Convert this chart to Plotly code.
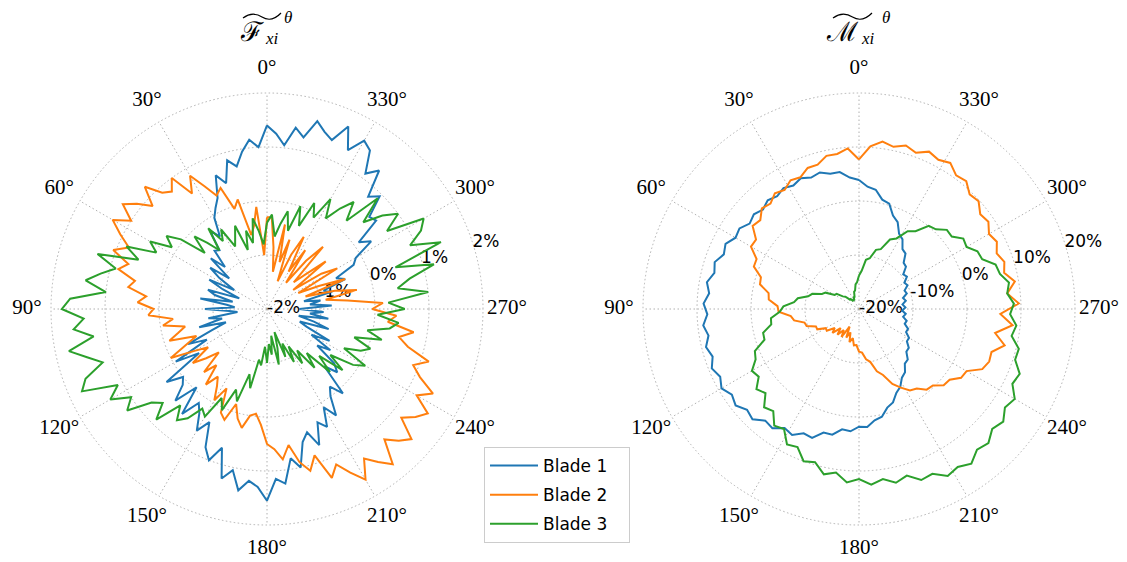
import plotly.graph_objects as go

# ---------------- data ----------------
theta_left = list(range(0, 360, 3))      # degrees, 3-degree steps
theta_right = list(range(0, 360, 4))     # degrees, 4-degree steps

force_blade1 = [1.4, 1.0, 1.15, 0.95, 0.7, 0.85, 0.45, 0.65, 0.25, 0.1,
                -0.05, -0.4, -0.2, -0.6, -0.55, -0.9, -0.6, -1.1, -0.7, -0.95,
                -1.3, -0.8, -1.1, -1.45, -0.85, -1.0, -1.35, -0.75, -1.25, -1.4,
                -0.85, -1.3, -1.45, -0.9, -1.15, -0.7, -1.2, -0.9, -0.4, -0.75,
                -0.05, -0.5, 0.3, 0.0, 0.1, 0.4, -0.05, 0.5, 0.15, 0.3,
                0.6, 0.35, 0.8, 1.0, 0.7, 1.25, 1.05, 1.4, 1.2, 1.3,
                1.55, 1.15, 1.25, 0.8, 1.0, 0.55, 0.4, 0.7, 0.3, 0.45,
                0.1, 0.35, 0.0, -0.15, 0.1, -0.5, -0.25, -0.4, -0.85, -0.6,
                -1.05, -0.7, -1.2, -1.35, -0.8, -1.1, -1.4, -0.85, -1.2, -0.95,
                -1.4, -0.8, -1.2, -1.0, -1.3, -0.75, -0.9, -0.45, -0.6, -0.2,
                -0.1, 0.3, 0.1, 0.6, 0.55, 0.95, 0.8, 1.3, 1.1, 1.5,
                1.6, 1.3, 1.7, 1.35, 1.45, 1.6, 1.25, 1.4, 1.05, 1.25]

force_blade2 = [-0.3, -1.0, -0.1, -0.45, -0.6, 0.1, -0.05, 0.4, 0.3, 0.55,
                0.85, 0.55, 1.0, 0.8, 0.9, 1.2, 0.85, 1.1, 1.3, 1.0,
                1.3, 1.05, 0.8, 1.05, 0.7, 0.85, 0.5, 0.6, 0.25, 0.4,
                0.1, 0.2, -0.25, -0.05, -0.45, -0.3, -0.1, -0.6, -0.35, 0.0,
                -0.45, -0.7, -0.3, -0.55, -0.8, -0.35, -0.6, -0.2, -0.45, -0.3,
                -0.05, -0.35, 0.1, 0.2, -0.15, 0.1, 0.25, 0.0, -0.05, 0.15,
                0.5, 0.6, 0.8, 0.55, 0.9, 1.1, 0.85, 1.35, 1.15, 1.4,
                1.65, 1.3, 1.5, 1.7, 1.25, 1.45, 1.6, 1.2, 1.4, 1.55,
                1.2, 1.45, 1.1, 0.9, 1.15, 0.7, 0.5, 0.75, 0.25, 0.4,
                -0.05, 0.15, -0.5, -0.9, -0.3, -0.7, -1.25, -0.45, -0.95, -1.35,
                -0.5, -0.8, -1.4, -0.6, -1.05, -1.3, -0.45, -0.85, -1.4, -0.7,
                -1.2, -0.5, -0.9, -1.45, -0.65, -1.1, -0.4, -1.3, -0.85, -0.3]

force_blade3 = [-0.4, -0.8, -0.55, -0.3, -0.75, -0.5, -0.85, -0.35, -0.55, -0.7,
                -0.3, -0.5, -0.15, -0.6, -0.35, -0.1, -0.45, 0.05, 0.3, 0.1,
                0.5, 0.3, 0.85, 0.55, 1.3, 0.9, 1.15, 1.4, 1.0, 1.65,
                1.8, 1.4, 1.6, 1.25, 1.75, 1.45, 1.2, 1.6, 1.75, 1.1,
                1.35, 1.0, 1.2, 0.75, 0.6, 0.9, 0.4, 0.65, 0.5, 0.2,
                0.3, -0.15, 0.05, -0.4, -0.2, -0.75, -0.5, -1.05, -0.95, -1.3,
                -1.0, -1.35, -1.15, -1.5, -0.95, -1.25, -1.55, -1.05, -1.3, -0.9,
                -1.2, -0.8, -1.05, -0.6, -0.9, -0.35, -0.7, -0.2, -0.55, -0.1,
                0.1, -0.4, -0.1, 0.05, -0.3, 0.2, -0.1, 0.3, 0.45, 0.05,
                0.55, 0.25, 1.0, 0.45, 0.7, 1.2, 0.5, 1.45, 0.9, 1.2,
                1.35, 0.65, 1.0, 0.75, 0.4, 0.9, 0.2, 0.55, 0.3, 0.0,
                0.35, -0.1, 0.15, -0.35, 0.0, -0.5, -0.15, -0.4, -0.65, -0.25]

moment_blade1 = [3.9, 4.4, 5.6, 5.6, 6.3, 5.9, 6.5, 5.9, 6.4, 5.8,
                 6.3, 5.6, 6.2, 5.7, 6.7, 6.4, 7.5, 7.0, 8.1, 7.6,
                 8.6, 7.9, 8.8, 8.1, 9.0, 8.3, 9.2, 8.5, 9.4, 8.6,
                 9.4, 8.4, 9.0, 7.9, 8.4, 7.0, 7.3, 6.0, 6.4, 5.2,
                 5.4, 3.8, 3.8, 2.5, 2.7, 1.8, 1.9, 0.8, 0.4, -1.0,
                 -1.6, -3.0, -3.7, -5.0, -5.5, -6.8, -7.0, -8.2, -8.3, -9.3,
                 -9.3, -10.3, -10.2, -11.1, -10.9, -11.7, -11.3, -12.0, -11.4, -11.9,
                 -11.2, -11.6, -10.7, -10.9, -10.0, -10.3, -9.3, -9.6, -8.3, -8.1,
                 -6.6, -6.3, -4.8, -4.2, -2.4, -1.6, 0.3, 0.7, 2.3, 2.7]

moment_blade2 = [7.7, 9.8, 9.0, 9.0, 7.8, 7.8, 6.7, 7.0, 6.0, 6.5,
                 5.5, 5.9, 4.6, 5.0, 3.0, 3.1, 1.1, 1.0, -0.9, -1.1,
                 -3.0, -3.2, -4.9, -5.1, -7.3, -7.8, -9.6, -9.8, -11.4, -11.4,
                 -12.9, -12.8, -14.3, -13.4, -15.1, -13.8, -15.2, -13.9, -16.3, -14.2,
                 -15.4, -13.6, -14.5, -13.2, -13.3, -12.1, -11.9, -10.6, -10.0, -8.0,
                 -7.0, -4.8, -3.5, -2.2, -1.8, -0.5, -0.3, 1.1, 1.3, 2.8,
                 3.0, 5.4, 6.0, 5.8, 7.8, 5.6, 8.6, 6.2, 9.6, 7.6,
                 9.3, 7.7, 8.3, 7.5, 8.4, 7.8, 8.9, 8.5, 9.8, 9.5,
                 10.9, 10.6, 11.9, 11.3, 11.9, 10.8, 11.5, 10.7, 11.3, 10.2]

moment_blade3 = [-13.8, -15.0, -15.4, -16.5, -16.7, -17.6, -17.6, -18.2, -17.9, -18.2,
                 -17.6, -17.6, -16.6, -16.2, -15.0, -14.8, -13.1, -12.6, -10.9, -10.3,
                 -8.5, -7.9, -6.0, -5.3, -3.6, -3.5, -1.7, -1.6, 0.8, 1.3,
                 2.9, 2.4, 4.1, 3.3, 5.3, 4.7, 6.7, 6.2, 8.4, 8.0,
                 10.0, 9.5, 11.3, 10.6, 12.2, 11.5, 12.6, 11.8, 12.9, 12.1,
                 13.7, 13.4, 15.0, 14.5, 15.4, 14.0, 14.5, 13.2, 13.9, 12.6,
                 13.3, 11.6, 12.1, 10.4, 10.5, 8.7, 9.3, 8.0, 8.7, 7.6,
                 8.2, 6.9, 6.6, 4.6, 4.4, 3.0, 3.3, 1.8, 1.9, 0.5,
                 0.1, -2.2, -3.0, -5.2, -5.9, -8.2, -8.6, -10.4, -10.8, -12.9]

blade_names = ["Blade 1", "Blade 2", "Blade 3"]
blade_colors = ["#1f77b4", "#ff7f0e", "#2ca02c"]

angular_ticks = list(range(0, 360, 30))
angular_labels = [f"{a}°" for a in angular_ticks]

left_rticks = [-2, -1, 0, 1, 2]
left_rlabels = ["-2%", "-1%", "0%", "1%", "2%"]
right_rticks = [-20, -10, 0, 10, 20]
right_rlabels = ["-20%", "-10%", "0%", "10%", "20%"]
radial_label_theta = 288

# ---------------- figure ----------------
W, H = 1127, 562
OFF = 8            # page body margin of the html page, compensated here
R_PX = 216         # pixel radius of the outer (data) circle
LABEL_GAP = 0.111  # angular labels sit this fraction of the span beyond the circle
EXTRA = 0.125      # headroom of the radial range so the labels stay inside it

def px(x):
    return (x - OFF) / W

def py(y):
    return 1 - (y - OFF) / H

fig = go.Figure()

def closed(seq):
    return list(seq) + [seq[0]]

sans_tick = dict(family="DejaVu Sans", size=17, color="black")
serif_tick = dict(family="Liberation Serif", size=21, color="black")
grid = "#b0b0b0"
gdash = "1.5px,2.5px"

panels = [("polar", left_rticks, left_rlabels), ("polar2", right_rticks, right_rlabels)]
for sp, rticks, rlabels in panels:
    rmin, rmax = rticks[0], rticks[-1]
    span = rmax - rmin
    # angular spokes (dotted lines from the centre to the outer circle)
    spoke_r, spoke_t = [], []
    for a in angular_ticks:
        spoke_r += [rmin, rmax, None]
        spoke_t += [a, a, None]
    fig.add_trace(go.Scatterpolar(
        r=spoke_r, theta=spoke_t, mode="lines",
        line=dict(color=grid, width=1, dash=gdash),
        showlegend=False, hoverinfo="skip", subplot=sp))
    # radial tick labels (drawn before the curves so these lie over them)
    fig.add_trace(go.Scatterpolar(
        r=rticks, theta=[radial_label_theta] * len(rticks),
        mode="text", text=rlabels, textposition="middle right",
        textfont=sans_tick, cliponaxis=False, showlegend=False,
        hoverinfo="skip", subplot=sp))
    # angular tick labels
    fig.add_trace(go.Scatterpolar(
        r=[rmax + LABEL_GAP * span] * len(angular_ticks), theta=angular_ticks,
        mode="text", text=angular_labels, textposition="middle center",
        textfont=serif_tick, cliponaxis=False, showlegend=False,
        hoverinfo="skip", subplot=sp))

for name, color, vals in zip(blade_names, blade_colors,
                             [force_blade1, force_blade2, force_blade3]):
    fig.add_trace(go.Scatterpolar(
        r=closed(vals), theta=closed(theta_left), mode="lines",
        name=name + "\u00a0\u00a0\u00a0",
        line=dict(color=color, width=2), subplot="polar", legendgroup=name))

for name, color, vals in zip(blade_names, blade_colors,
                             [moment_blade1, moment_blade2, moment_blade3]):
    fig.add_trace(go.Scatterpolar(
        r=closed(vals), theta=closed(theta_right), mode="lines", name=name,
        line=dict(color=color, width=2), subplot="polar2", legendgroup=name,
        showlegend=False))

def polar_layout(cx, rticks):
    rmin, rmax = rticks[0], rticks[-1]
    span = rmax - rmin
    top = rmax + EXTRA * span
    rad = R_PX * (top - rmin) / span
    return dict(
        domain=dict(x=[px(cx - rad), px(cx + rad)], y=[py(309 + rad), py(309 - rad)]),
        bgcolor="white",
        angularaxis=dict(rotation=90, direction="counterclockwise",
                         showticklabels=False, showline=False, ticks="",
                         showgrid=False),
        radialaxis=dict(range=[rmin, top], tickmode="array", tickvals=rticks,
                        showticklabels=False, ticks="", showline=False,
                        gridcolor=grid, griddash=gdash, gridwidth=1),
    )

fig.update_layout(
    width=W, height=H,
    margin=dict(l=0, r=0, t=0, b=0),
    paper_bgcolor="white", plot_bgcolor="white",
    polar=polar_layout(267, left_rticks),
    polar2=polar_layout(859, right_rticks),
    showlegend=True,
    legend=dict(x=px(484), y=py(447), xanchor="left", yanchor="top",
                bgcolor="white", bordercolor="#cccccc", borderwidth=1,
                font=dict(family="DejaVu Sans", size=17, color="black"),
                tracegroupgap=4, itemwidth=48),
)

# titles (split into glyph, subscript and superscript pieces)
def note(x, y, text, font):
    fig.add_annotation(x=px(x), y=py(y), xref="paper", yref="paper", showarrow=False,
                       xanchor="center", yanchor="middle", text=text, font=font)

cal_font = dict(family="DejaVu Serif", size=27, color="black")
sub_font = dict(family="Liberation Serif", size=17, color="black")
sup_font = dict(family="Liberation Serif", size=17, color="black")

note(252, 31, "ℱ", cal_font)
note(272, 38, "<i>xi</i>", sub_font)
note(288, 17, "<i>θ</i>", sup_font)
note(842, 32, "ℳ", cal_font)
note(868, 38, "<i>xi</i>", sub_font)
note(886, 17, "<i>θ</i>", sup_font)

def tilde_path(x0, x1, y):
    w = x1 - x0
    return (f"M {px(x0)},{py(y + 2)} Q {px(x0 + 0.25 * w)},{py(y - 5)} "
            f"{px(x0 + 0.5 * w)},{py(y + 1)} T {px(x1)},{py(y - 3)}")

fig.add_shape(type="path", xref="paper", yref="paper", path=tilde_path(243, 281, 16),
              line=dict(color="black", width=1.2))
fig.add_shape(type="path", xref="paper", yref="paper", path=tilde_path(833, 872, 16),
              line=dict(color="black", width=1.2))

fig.write_html("out.html")
